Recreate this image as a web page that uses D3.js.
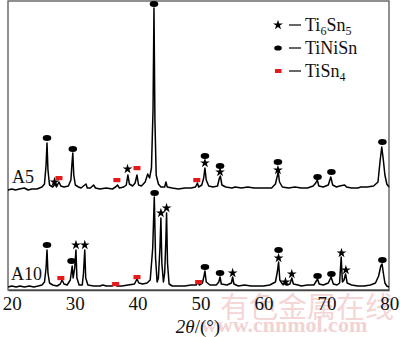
<!DOCTYPE html>
<html><head><meta charset="utf-8">
<script src="https://cdn.jsdelivr.net/npm/d3@7"></script>
<style>
html,body{margin:0;padding:0;background:#fff;}
svg{display:block;}
</style></head>
<body>
<script>
// ---- DATA ----
const xTicks = [20, 30, 40, 50, 60, 70, 80];
const sampleLabels = ["A5", "A10"];
const offsetA5 = 98; // vertical stacking offset (a.u.)

// A5 XRD pattern: [2θ, intensity a.u.]
const traceA5 = [
[19.4,0],[20.0,1],[20.6,0],[21.2,1],[22.0,2],[22.6,0],[23.2,1],[24.0,1],[24.8,3],[25.2,6],[25.45,25],[25.6,47],[25.75,20],[26.0,5],[26.5,3],
[26.9,6],[27.1,3],[27.5,8],[27.8,4],[28.3,3],[29.0,4],[29.4,10],[29.55,25],[29.7,37],[29.85,15],[30.1,5],[30.6,3],[31.0,2],[31.8,6],[32.0,2],
[32.5,2],[33.0,5],[33.3,2],[34.0,1],[35.0,2],[36.0,1],[36.5,3],[36.8,5],[37.1,2],[37.8,3],[38.2,5],[38.45,15],[38.7,6],[39.2,4],[39.6,7],[39.9,15],
[40.15,5],[40.6,4],[41.2,8],[41.6,16],[41.9,12],[42.2,22],[42.45,80],[42.6,182],[42.75,70],[42.95,15],[43.3,6],[43.7,3],[44.3,3],[44.5,8],[44.7,3],
[45.5,2],[46.5,1],[47.5,2],[48.5,2],[49.2,3],[49.5,7],[49.7,3],[50.2,5],[50.5,12],[50.7,22],[50.9,10],[51.3,4],[52.0,3],[52.7,4],[53.0,12],[53.15,14],
[53.4,5],[54.0,3],[55.0,2],[55.5,3],[56.5,2],[57.5,3],[58.5,2],[59.5,2],[60.5,2],[61.3,2],[61.9,6],[62.2,14],[62.35,18],[62.55,8],[63.0,3],[64.0,2],
[65.0,3],[66.0,2],[67.0,2],[67.9,4],[68.3,7],[68.55,10],[68.8,4],[69.5,3],[70.3,5],[70.7,13],[71.0,5],[71.6,3],[72.1,4],[72.9,5],[73.2,3],[74.0,2],
[75.0,2],[75.5,3],[76.5,3],[77.5,4],[78.2,8],[78.55,30],[78.8,43],[79.05,30],[79.3,15],[79.6,6],[79.95,3]
];

// A10 XRD pattern: [2θ, intensity a.u.]
const traceA10 = [
[19.4,1],[20.0,2],[20.7,1],[21.3,2],[22.0,1],[22.8,2],[23.5,1],[24.2,2],[24.8,3],[25.2,6],[25.45,20],[25.6,38],[25.75,15],[26.0,5],[26.5,3],
[27.2,2],[27.7,4],[28.0,8],[28.3,4],[28.8,3],[29.3,8],[29.6,22],[29.75,10],[30.0,20],[30.2,38],[30.35,10],[30.7,3],[31.2,3],[31.4,15],[31.6,38],
[31.75,10],[32.1,3],[33.0,2],[34.0,2],[34.5,3],[35.0,2],[36.0,2],[36.4,4],[36.7,2],[37.5,2],[38.5,3],[39.5,4],[39.9,9],[40.2,5],[40.8,4],[41.5,5],
[42.0,8],[42.4,40],[42.65,91],[42.85,30],[43.1,6],[43.3,10],[43.55,40],[43.7,70],[43.85,25],[44.1,6],[44.3,15],[44.5,50],[44.6,75],[44.75,25],
[45.0,4],[45.5,2],[46.5,2],[47.5,2],[48.5,3],[49.3,3],[49.6,6],[49.8,3],[50.3,5],[50.55,12],[50.7,17],[50.9,6],[51.5,3],[52.5,3],[52.9,6],[53.1,11],
[53.3,4],[54.2,3],[54.9,5],[55.1,11],[55.3,4],[56.0,2],[57.0,3],[58.0,2],[59.0,2],[60.0,2],[61.0,3],[61.9,6],[62.2,16],[62.4,26],[62.6,8],[63.0,4],
[63.4,5],[63.6,3],[64.2,4],[64.5,10],[64.75,4],[65.5,3],[66.0,2],[67.0,3],[68.0,3],[68.3,6],[68.6,9],[68.85,4],[69.5,3],[70.3,5],[70.75,11],[71.1,4],
[71.7,3],[72.1,5],[72.35,31],[72.55,6],[72.8,8],[73.05,14],[73.3,5],[74.0,3],[75.0,2],[76.0,2],[77.0,3],[77.8,5],[78.3,12],[78.65,22],[78.85,24],
[79.05,15],[79.3,5],[79.6,2],[79.95,1]
];

// Phase markers: [2θ, level a.u.]
const a5Ti6Sn5 = [[26.8,8],[38.4,21],[50.7,27],[53.1,18],[62.3,20]];
const a5TiNiSn = [[25.6,52],[29.7,41],[42.6,186],[50.7,34],[53.1,24],[62.3,28],[68.6,13],[70.8,18],[78.9,48]];
const a5TiSn4  = [[27.5,12],[36.7,10],[39.9,22],[49.4,10]];
const a10Ti6Sn5 = [[30.2,43],[31.6,43],[43.7,75],[44.6,80],[55.1,15],[62.4,30],[63.5,6],[64.5,14],[72.4,35],[73.1,18]];
const a10TiNiSn = [[25.6,43],[29.5,27],[42.7,95],[50.7,21],[53.1,15],[62.4,38],[68.6,12],[70.8,14],[78.9,28]];
const a10TiSn4  = [[27.8,10],[36.5,4],[39.9,11],[49.7,6]];

const legendNames = [["Ti","6","Sn","5"],["TiNiSn"],["Ti","","Sn","4"]];

// ---- CHART ----
const W = 400, H = 337;
const svg = d3.select("body").append("svg").attr("width", W).attr("height", H);
const serif = "'Liberation Serif','Times New Roman',serif";

// watermark
svg.append("text").attr("x", 220).attr("y", 318).attr("font-family", "'Noto Sans CJK SC'")
  .attr("font-size", 29).attr("fill", "#f4d6d6").text("有色金属在线");
svg.append("text").attr("x", 201).attr("y", 332).attr("font-family", serif).attr("font-weight", "bold")
  .attr("font-size", 22).attr("fill", "#f2d2d2").text("www.cnnmol.com");

const x = d3.scaleLinear().domain([19.4, 79.95]).range([8, 389]);
const y = d3.scaleLinear().domain([-2, 288]).range([290, 0]);

// frame
svg.append("rect").attr("x", 8).attr("y", 1).attr("width", 381).attr("height", 289)
  .attr("fill", "none").attr("stroke", "#555").attr("stroke-width", 1.3);

// x axis
const ax = svg.append("g").attr("transform", "translate(0,290)")
  .call(d3.axisBottom(x).tickValues(xTicks).tickSize(0).tickPadding(7).tickFormat(d3.format("d")));
ax.select(".domain").attr("stroke", "#444").attr("stroke-width", 1.3);
ax.selectAll("text").attr("font-family", serif).attr("font-size", 19).attr("fill", "#111").attr("dy", "0.71em");

// axis label
const xl = svg.append("text").attr("x", 198).attr("y", 333).attr("text-anchor", "middle")
  .attr("font-family", serif).attr("font-size", 19).attr("fill", "#111");
xl.append("tspan").attr("font-style", "italic").text("2θ");
xl.append("tspan").text("/(°)");

const line = d3.line().x(d => x(d[0])).y(d => y(d[1]));
svg.append("path").datum(traceA5.map(d => [d[0], d[1] + offsetA5])).attr("d", line)
  .attr("fill", "none").attr("stroke", "#000").attr("stroke-width", 1.5).attr("stroke-linejoin", "round");
svg.append("path").datum(traceA10).attr("d", line)
  .attr("fill", "none").attr("stroke", "#000").attr("stroke-width", 1.5).attr("stroke-linejoin", "round");

// sample labels
svg.append("text").attr("x", 12).attr("y", 183).attr("font-family", serif).attr("font-size", 18).attr("fill", "#111").text(sampleLabels[0]);
svg.append("text").attr("x", 11).attr("y", 280).attr("font-family", serif).attr("font-size", 18).attr("fill", "#111").text(sampleLabels[1]);

// markers
const star = d3.symbol().type(d3.symbolStar).size(30);
function drawStars(data, off) {
  svg.append("g").selectAll("path").data(data).join("path").attr("d", star)
    .attr("transform", d => `translate(${x(d[0])},${y(d[1] + off)})`).attr("fill", "#000");
}
function drawCircles(data, off) {
  svg.append("g").selectAll("ellipse").data(data).join("ellipse")
    .attr("cx", d => x(d[0])).attr("cy", d => y(d[1] + off)).attr("rx", 4.3).attr("ry", 3).attr("fill", "#000");
}
function drawRects(data, off) {
  svg.append("g").selectAll("rect").data(data).join("rect")
    .attr("x", d => x(d[0]) - 3.5).attr("y", d => y(d[1] + off) - 2).attr("width", 7).attr("height", 4.2).attr("fill", "#e3191c");
}
drawStars(a5Ti6Sn5, offsetA5); drawCircles(a5TiNiSn, offsetA5); drawRects(a5TiSn4, offsetA5);
drawStars(a10Ti6Sn5, 0); drawCircles(a10TiNiSn, 0); drawRects(a10TiSn4, 0);

// legend
const lg = svg.append("g");
const rows = [25, 48, 71];
lg.append("path").attr("d", star).attr("transform", `translate(278,${rows[0]})`).attr("fill", "#000");
lg.append("ellipse").attr("cx", 278).attr("cy", rows[1]).attr("rx", 3.8).attr("ry", 2.6).attr("fill", "#000");
lg.append("rect").attr("x", 275).attr("y", rows[2] - 2).attr("width", 6.5).attr("height", 4).attr("fill", "#e3191c");
legendNames.forEach((parts, i) => {
  lg.append("line").attr("x1", 289).attr("x2", 301).attr("y1", rows[i]).attr("y2", rows[i])
    .attr("stroke", "#000").attr("stroke-width", 1.2);
  const t = lg.append("text").attr("x", 305).attr("y", rows[i] + 6).attr("font-family", serif)
    .attr("font-size", 18).attr("fill", "#111");
  if (parts.length === 1) { t.text(parts[0]); return; }
  t.append("tspan").text(parts[0]);
  if (parts[1]) t.append("tspan").attr("font-size", 12).attr("dy", 4).text(parts[1]);
  t.append("tspan").attr("dy", parts[1] ? -4 : 0).text(parts[2]);
  t.append("tspan").attr("font-size", 12).attr("dy", 4).text(parts[3]);
});
</script>
</body></html>
